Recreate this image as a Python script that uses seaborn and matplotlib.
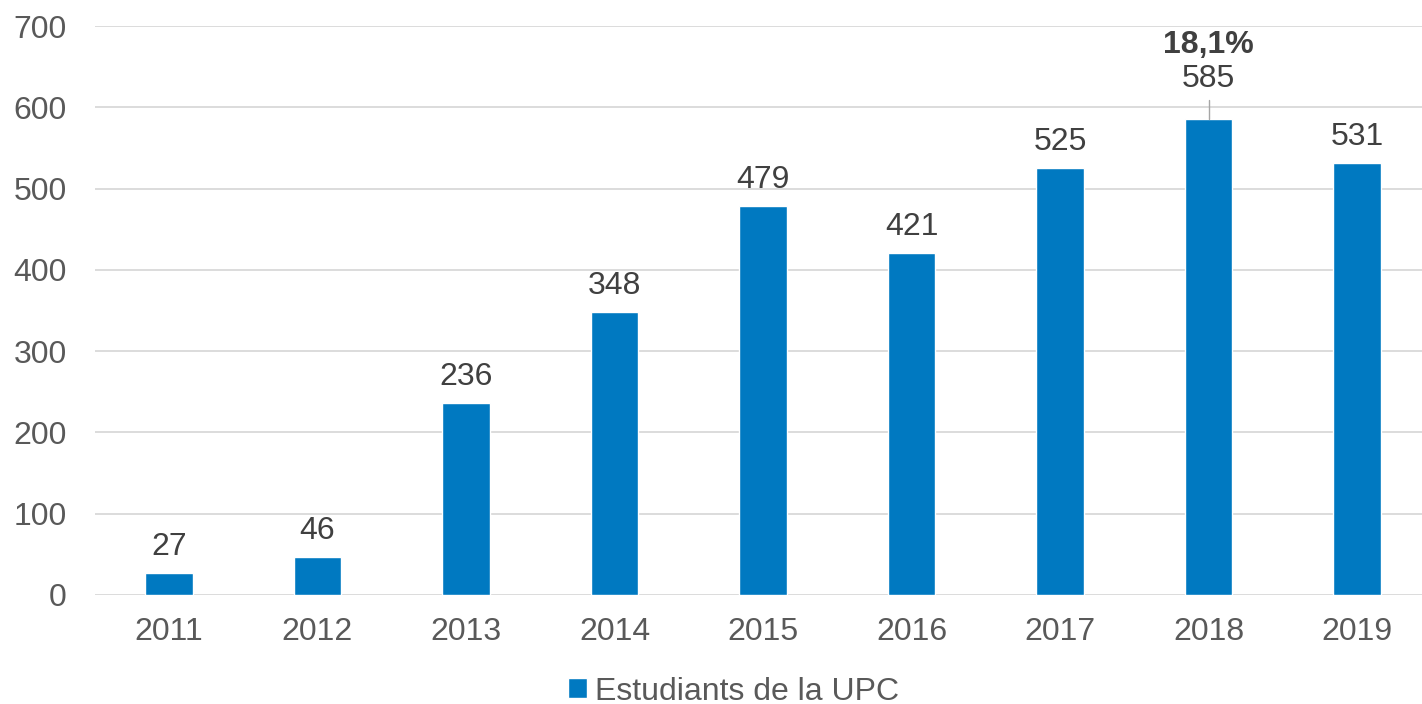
import pandas as pd
import matplotlib.pyplot as plt
import seaborn as sns

years = ["2011", "2012", "2013", "2014", "2015", "2016", "2017", "2018", "2019"]
students = [27, 46, 236, 348, 479, 421, 525, 585, 531]
series_name = "Estudiants de la UPC"
highlight_year = "2018"
highlight_label = "18,1%"

df = pd.DataFrame({"year": years, "students": students, "serie": series_name})

sns.set_theme(style="white")
plt.rcParams["font.family"] = ["Liberation Sans", "DejaVu Sans"]

blue = "#0079C1"
grey_txt = "#595959"
dark_txt = "#404040"
fs = 23

fig = plt.figure(figsize=(14.22, 7.04), dpi=100)
ax = fig.add_axes([0.0666, 0.155, 0.940, 0.808])

sns.barplot(data=df, x="year", y="students", hue="serie", palette=[blue],
            saturation=1, width=0.32, ax=ax, legend=True)

ax.set_ylim(0, 700)
ax.set_yticks(range(0, 701, 100))
ax.set_xlim(-0.5, len(years) - 0.5)
ax.grid(axis="y", color="#D9D9D9", linewidth=1.3)
ax.set_axisbelow(True)
for s in ax.spines.values():
    s.set_visible(False)
ax.set_xlabel("")
ax.set_ylabel("")
ax.tick_params(axis="both", labelsize=fs, colors=grey_txt, length=0)
ax.tick_params(axis="y", pad=20)
ax.tick_params(axis="x", pad=16)

for i, (yr, v) in enumerate(zip(years, students)):
    if yr == highlight_year:
        ax.plot([i, i], [v, v + 24], color="#A6A6A6", linewidth=1, zorder=1)
        ax.annotate(str(v), (i, v), xytext=(0, 23.3), textcoords="offset points",
                    ha="center", va="baseline", fontsize=fs, color=dark_txt)
        ax.annotate(highlight_label, (i, v), xytext=(0, 47.8), textcoords="offset points",
                    ha="center", va="baseline", fontsize=fs, color=dark_txt, fontweight="bold")
    else:
        ax.annotate(str(v), (i, v), xytext=(0, 13), textcoords="offset points",
                    ha="center", va="baseline", fontsize=fs, color=dark_txt)

leg = ax.legend(loc="center", bbox_to_anchor=(0.478, -0.17), frameon=False,
                fontsize=fs, handlelength=0.6, handleheight=0.6, handletextpad=0.25)
for t in leg.get_texts():
    t.set_color(grey_txt)

fig.savefig("out.png", dpi=100)
